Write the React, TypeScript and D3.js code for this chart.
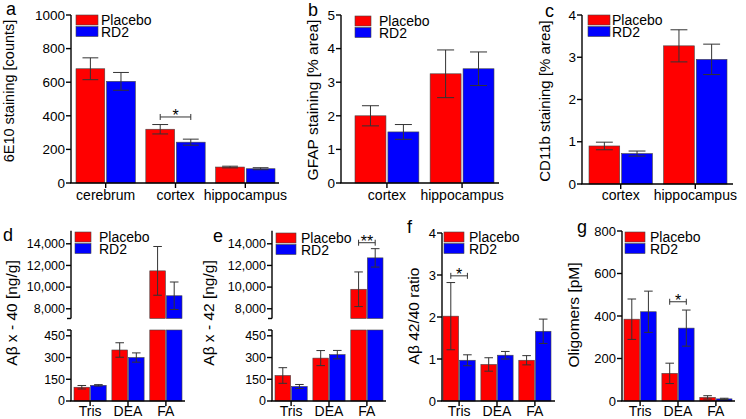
import React, { useEffect } from 'react';
import * as d3 from 'd3';

const series = ['Placebo', 'RD2'];
const seriesColors = ['#ff0000', '#0000ff'];

// panel a
const aCategories = ['cerebrum', 'cortex', 'hippocampus'];
const aPlacebo = [680, 320, 95];
const aPlaceboErr = [65, 28, 5];
const aRD2 = [605, 243, 85];
const aRD2Err = [53, 18, 6];
const aTicks = [0, 200, 400, 600, 800, 1000];

// panel b
const bCategories = ['cortex', 'hippocampus'];
const bPlacebo = [2.0, 3.25];
const bPlaceboErr = [0.3, 0.71];
const bRD2 = [1.52, 3.4];
const bRD2Err = [0.22, 0.5];
const bTicks = [0, 1, 2, 3, 4, 5];

// panel c
const cCategories = ['cortex', 'hippocampus'];
const cPlacebo = [0.9, 3.27];
const cPlaceboErr = [0.09, 0.38];
const cRD2 = [0.72, 2.95];
const cRD2Err = [0.06, 0.36];
const cTicks = [0, 1, 2, 3, 4];

// panels d-g share fractions
const fractions = ['Tris', 'DEA', 'FA'];
const splitLowerTicks = [0, 150, 300, 450];
const splitUpperTicks = [8000, 10000, 12000, 14000];

const dPlacebo = [95, 352, 11500];
const dPlaceboErr = [12, 50, 2250];
const dRD2 = [108, 300, 9200];
const dRD2Err = [5, 32, 1270];

const ePlacebo = [176, 296, 9800];
const ePlaceboErr = [54, 52, 1600];
const eRD2 = [100, 320, 12700];
const eRD2Err = [14, 29, 850];

const fPlacebo = [2.02, 0.87, 0.97];
const fPlaceboErr = [0.8, 0.16, 0.11];
const fRD2 = [0.97, 1.09, 1.66];
const fRD2Err = [0.13, 0.09, 0.29];
const fTicks = [0, 1, 2, 3, 4];

const gPlacebo = [385, 130, 17];
const gPlaceboErr = [95, 48, 8];
const gRD2 = [420, 343, 10];
const gRD2Err = [97, 85, 3];
const gTicks = [0, 200, 400, 600, 800];

const font = "'Liberation Sans', Arial, Helvetica, sans-serif";
const axisW = 1.4;
const errColor = '#333';

type Sig = { cat: number; value: number; label: string };

type PanelProps = {
  letter: string;
  letterX: number;
  letterY: number;
  title: string;
  titleX: number;
  titleY: number;
  titleSize: number;
  tickSize: number;
  categories: string[];
  values: number[][];
  errs: number[][];
  axisX: [number, number];
  barX: [number, number];
  labelY: number;
  legendX: number;
  legendY: number;
  legendW: number;
  legendTextX: number;
  sig?: Sig;
  // normal
  yDomain?: [number, number];
  yRange?: [number, number];
  ticks?: number[];
  // split
  split?: {
    lowerDomain: [number, number];
    lowerRange: [number, number];
    upperDomain: [number, number];
    upperRange: [number, number];
  };
};

const fmt = d3.format(',');

function ErrorBar({ cx, y0, y1, cap }: { cx: number; y0: number; y1: number; cap: number }) {
  return (
    <g stroke={errColor} strokeWidth={1} fill="none">
      <line x1={cx} x2={cx} y1={y0} y2={y1} />
      <line x1={cx - cap / 2} x2={cx + cap / 2} y1={y0} y2={y0} />
      <line x1={cx - cap / 2} x2={cx + cap / 2} y1={y1} y2={y1} />
    </g>
  );
}

function Panel(p: PanelProps) {
  const x = d3.scaleBand<string>().domain(p.categories).range(p.barX).paddingInner(0.15).paddingOuter(0);
  const xs = d3.scaleBand<string>().domain(series).range([0, x.bandwidth()]).paddingInner(0.06);
  const bw = xs.bandwidth();
  const cap = bw * 0.55;
  const axisBottom = p.split ? p.split.lowerRange[0] : p.yRange![0];

  const yl = p.split ? d3.scaleLinear().domain(p.split.lowerDomain).range(p.split.lowerRange) : d3.scaleLinear().domain(p.yDomain!).range(p.yRange!);
  const yu = p.split ? d3.scaleLinear().domain(p.split.upperDomain).range(p.split.upperRange) : null;
  const lowerMax = yl.domain()[1];

  const bars: React.ReactNode[] = [];
  const errors: React.ReactNode[] = [];
  p.categories.forEach((c, ci) => {
    series.forEach((s, si) => {
      const v = p.values[si][ci];
      const e = p.errs[si][ci];
      const bx = (x(c) as number) + (xs(s) as number);
      const cx = bx + bw / 2;
      const fill = seriesColors[si];
      if (yu && v > lowerMax) {
        bars.push(
          <rect key={`l${ci}${si}`} x={bx} y={yl(lowerMax)} width={bw} height={yl(0) - yl(lowerMax)} fill={fill} stroke="#444" strokeWidth={0.6} />
        );
        const ub = yu.domain()[0];
        bars.push(
          <rect key={`u${ci}${si}`} x={bx} y={yu(v)} width={bw} height={yu(ub) - yu(v)} fill={fill} stroke="#444" strokeWidth={0.6} />
        );
        errors.push(<ErrorBar key={`e${ci}${si}`} cx={cx} y0={yu(v + e)} y1={yu(v - e)} cap={cap} />);
      } else {
        bars.push(
          <rect key={`b${ci}${si}`} x={bx} y={yl(v)} width={bw} height={yl(0) - yl(v)} fill={fill} stroke="#444" strokeWidth={0.6} />
        );
        errors.push(<ErrorBar key={`e${ci}${si}`} cx={cx} y0={yl(v + e)} y1={yl(Math.max(0, v - e))} cap={cap} />);
      }
    });
  });

  const ax = p.axisX[0];
  const yTick = (y: number, label: string, key: string) => (
    <g key={key}>
      <line x1={ax - 5} x2={ax} y1={y} y2={y} stroke="#000" strokeWidth={axisW} />
      <text x={ax - 6} y={y} dy="0.35em" textAnchor="end" fontSize={p.tickSize}>
        {label}
      </text>
    </g>
  );

  let yAxis: React.ReactNode;
  if (yu) {
    const lr = yl.range();
    const ur = yu.range();
    yAxis = (
      <g>
        <line x1={ax} x2={ax} y1={lr[0]} y2={lr[1]} stroke="#000" strokeWidth={axisW} />
        <line x1={ax - 4} x2={ax} y1={lr[1]} y2={lr[1]} stroke="#000" strokeWidth={axisW} />
        <line x1={ax} x2={ax} y1={ur[0]} y2={ur[1]} stroke="#000" strokeWidth={axisW} />
        <line x1={ax - 4} x2={ax} y1={ur[0]} y2={ur[0]} stroke="#000" strokeWidth={axisW} />
        {splitLowerTicks.map((t) => yTick(yl(t), fmt(t), `lt${t}`))}
        {splitUpperTicks.map((t) => yTick(yu(t), fmt(t), `ut${t}`))}
      </g>
    );
  } else {
    yAxis = (
      <g>
        <line x1={ax} x2={ax} y1={yl.range()[0]} y2={yl(p.ticks![p.ticks!.length - 1])} stroke="#000" strokeWidth={axisW} />
        {p.ticks!.map((t) => yTick(yl(t), String(t), `t${t}`))}
      </g>
    );
  }

  let sigEl: React.ReactNode = null;
  if (p.sig) {
    const c = p.categories[p.sig.cat];
    const x0 = (x(c) as number) + (xs(series[0]) as number) + bw / 2;
    const x1 = (x(c) as number) + (xs(series[1]) as number) + bw / 2;
    const sy = yu && p.sig.value > lowerMax ? yu(p.sig.value) : yl(p.sig.value);
    sigEl = (
      <g>
        <g stroke="#333" strokeWidth={1}>
          <line x1={x0} x2={x1} y1={sy} y2={sy} />
          <line x1={x0} x2={x0} y1={sy - 3} y2={sy + 3} />
          <line x1={x1} x2={x1} y1={sy - 3} y2={sy + 3} />
        </g>
        <text x={(x0 + x1) / 2} y={sy + 4} textAnchor="middle" fontSize={16}>
          {p.sig.label}
        </text>
      </g>
    );
  }

  return (
    <g fontFamily={font} fill="#000">
      {bars}
      {errors}
      {/* x axis */}
      <line x1={p.axisX[0] - axisW / 2} x2={p.axisX[1]} y1={axisBottom} y2={axisBottom} stroke="#000" strokeWidth={axisW} />
      {p.categories.map((c) => {
        const cx = (x(c) as number) + x.bandwidth() / 2;
        return (
          <g key={c}>
            <line x1={cx} x2={cx} y1={axisBottom} y2={axisBottom + 5} stroke="#000" strokeWidth={axisW} />
            <text x={cx} y={p.labelY} textAnchor="middle" fontSize={14}>
              {c}
            </text>
          </g>
        );
      })}
      {yAxis}
      {sigEl}
      {/* legend */}
      {series.map((s, i) => (
        <g key={s}>
          <rect x={p.legendX} y={p.legendY + i * 11.5} width={p.legendW} height={10} fill={seriesColors[i]} stroke="#444" strokeWidth={0.6} />
          <text x={p.legendTextX} y={p.legendY + i * 11.5 + 10} fontSize={14}>
            {s}
          </text>
        </g>
      ))}
      <text x={p.letterX} y={p.letterY} fontSize={18}>
        {p.letter}
      </text>
      <text transform={`translate(${p.titleX},${p.titleY}) rotate(-90)`} textAnchor="middle" fontSize={p.titleSize}>
        {p.title}
      </text>
    </g>
  );
}

const splitScales = {
  lowerDomain: [0, 490] as [number, number],
  lowerRange: [401, 330] as [number, number],
  upperDomain: [7100, 15200] as [number, number],
  upperRange: [318.5, 230.8] as [number, number],
};

export default function App() {
  useEffect(() => {
    document.body.style.margin = '0';
  }, []);
  return (
    <svg width={746} height={419} style={{ display: 'block', background: '#fff' }}>
      <Panel
        letter="a" letterX={6} letterY={15}
        title="6E10 staining [counts]" titleX={14} titleY={91} titleSize={14.5} tickSize={13.5}
        categories={aCategories} values={[aPlacebo, aRD2]} errs={[aPlaceboErr, aRD2Err]}
        axisX={[71, 279]} barX={[76, 275]} labelY={200}
        yDomain={[0, 1000]} yRange={[183, 15]} ticks={aTicks}
        legendX={76} legendY={15} legendW={22} legendTextX={101}
        sig={{ cat: 1, value: 393, label: '*' }}
      />
      <Panel
        letter="b" letterX={308} letterY={16}
        title="GFAP staining [% area]" titleX={318} titleY={100} titleSize={15.5} tickSize={13.5}
        categories={bCategories} values={[bPlacebo, bRD2]} errs={[bPlaceboErr, bRD2Err]}
        axisX={[341, 499]} barX={[355, 494]} labelY={200}
        yDomain={[0, 5]} yRange={[183, 15]} ticks={bTicks}
        legendX={355} legendY={16} legendW={16} legendTextX={379}
      />
      <Panel
        letter="c" letterX={545} letterY={17}
        title="CD11b staining [% area]" titleX={550} titleY={101} titleSize={15} tickSize={13.5}
        categories={cCategories} values={[cPlacebo, cRD2]} errs={[cPlaceboErr, cRD2Err]}
        axisX={[582, 733]} barX={[589, 727]} labelY={200}
        yDomain={[0, 4]} yRange={[184, 15]} ticks={cTicks}
        legendX={588} legendY={15} legendW={22} legendTextX={612}
      />
      <Panel
        letter="d" letterX={3} letterY={241}
        title="Aβ x - 40 [ng/g]" titleX={17} titleY={313} titleSize={15.5} tickSize={12.5}
        categories={fractions} values={[dPlacebo, dRD2]} errs={[dPlaceboErr, dRD2Err]}
        axisX={[71, 185]} barX={[74, 182]} labelY={416}
        split={splitScales}
        legendX={75} legendY={232} legendW={16} legendTextX={99}
      />
      <Panel
        letter="e" letterX={213} letterY={242}
        title="Aβ x - 42 [ng/g]" titleX={214} titleY={313} titleSize={15.5} tickSize={12.5}
        categories={fractions} values={[ePlacebo, eRD2]} errs={[ePlaceboErr, eRD2Err]}
        axisX={[272, 386]} barX={[275, 383]} labelY={416}
        split={splitScales}
        legendX={276} legendY={233} legendW={20} legendTextX={301}
        sig={{ cat: 2, value: 14100, label: '**' }}
      />
      <Panel
        letter="f" letterX={407} letterY={233}
        title="Aβ 42/40 ratio" titleX={419} titleY={316} titleSize={15.5} tickSize={13}
        categories={fractions} values={[fPlacebo, fRD2]} errs={[fPlaceboErr, fRD2Err]}
        axisX={[442, 555]} barX={[443, 551]} labelY={416}
        yDomain={[0, 4]} yRange={[401, 233]} ticks={fTicks}
        legendX={444} legendY={232} legendW={20} legendTextX={469}
        sig={{ cat: 0, value: 2.98, label: '*' }}
      />
      <Panel
        letter="g" letterX={577} letterY={233}
        title="Oligomers [pM]" titleX={579} titleY={315} titleSize={15.5} tickSize={13}
        categories={fractions} values={[gPlacebo, gRD2]} errs={[gPlaceboErr, gRD2Err]}
        axisX={[622, 735]} barX={[624, 732]} labelY={416}
        yDomain={[0, 800]} yRange={[401, 231]} ticks={gTicks}
        legendX={625} legendY={232} legendW={20} legendTextX={650}
        sig={{ cat: 1, value: 467, label: '*' }}
      />
    </svg>
  );
}
